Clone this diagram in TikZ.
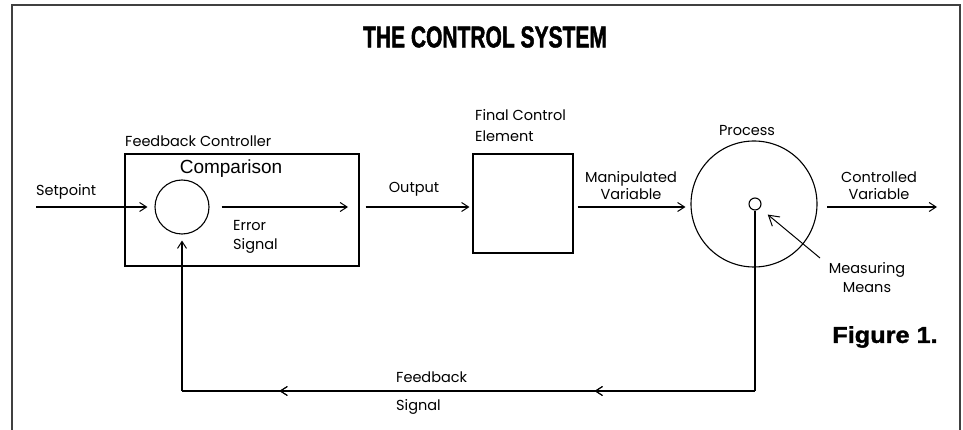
\documentclass[tikz,border=0pt]{standalone}
\usepackage{fontspec}
\usetikzlibrary{arrows.meta,positioning,decorations.markings,calc}
\newfontfamily\lblfont{Poppins}
\newfontfamily\cmpfont{Liberation Sans}
\newfontfamily\titlefont[FakeStretch=0.7,FakeBold=1.5]{Liberation Sans}
\newfontfamily\figfont[FakeStretch=1.1,FakeBold=1.5]{Liberation Sans}
\tikzset{
    frame style/.style={line width=1.8pt,black!75},
    object style/.style={line width=1.1pt},
    block/.style={draw,object style,rectangle,inner sep=0pt},
    ring/.style={draw,object style,circle,inner sep=0pt},
    arr/.style={-{Straight Barb[length=7pt,width=9pt,line width=1pt]},object style},
    open arr/.style={-{Straight Barb[length=10pt,width=12pt,line width=1pt]},line width=1pt},
    midarrow/.style={postaction=decorate,decoration={markings, mark=at position #1 with {\arrow{Straight Barb[length=7pt,width=9pt,line width=1pt]}}} },
    midarrow/.default=.5,
    lbl/.style={font=\lblfont\fontsize{14.5}{17}\selectfont,inner sep=0pt},
}
\tikzstyle{every node}=[font=\lblfont]

\begin{document}
\begin{tikzpicture}[x=1pt,y=-1pt]
        \useasboundingbox (0,0) rectangle (963,430);
        \draw[frame style] (12,431) -- (12,5) -- (960,5) -- (960,431);
        \node[font=\titlefont\bfseries\fontsize{30}{30}\selectfont] (title) at (485,37) {THE CONTROL SYSTEM};

        \node[block,minimum width=234,minimum height=112] (ctrl) at (242,210) {};
        \node[ring,minimum size=54] (cmp) at (182,207) {};
        \node[block,minimum width=100,minimum height=99] (fce) at (523,203.5) {};
        \node[ring,minimum size=126] (proc) at (754,204) {};
        \node[ring,minimum size=12] (sensor) at (755,204) {};

        \coordinate (setpoint) at (36,207);
        \coordinate (err end) at (348,207);
        \coordinate (ctrl out) at (827,207);
        \coordinate (ctrl end) at (937,207);
        \coordinate (fb right) at (755,391);
        \coordinate (fb left) at (182,391);
        \coordinate (meas tail) at (820,258);

        \node[lbl,anchor=west] (fc label) at (125,141) {Feedback Controller};
        \node[font=\cmpfont\fontsize{19}{19}\selectfont,inner sep=0pt] (cmp label) at (231,169) {Comparison};
        \node[lbl,anchor=west] (sp label) at (36,192) {Setpoint};
        \node[lbl,anchor=west,align=left,font=\lblfont\fontsize{14.5}{19}\selectfont] (err label) at (233,236.5) {Error\\Signal};
        \node[lbl] (out label) at (414,189) {Output};
        \node[lbl,anchor=west,align=left,font=\lblfont\fontsize{14.5}{21}\selectfont] (fce label) at (475,125.5) {Final Control\\Element};
        \node[lbl,align=center] (mv label) at (631,186) {Manipulated\\Variable};
        \node[lbl] (proc label) at (747,131) {Process};
        \node[lbl,align=center] (cv label) at (879,186) {Controlled\\Variable};
        \node[lbl,align=center,font=\lblfont\fontsize{14.5}{19}\selectfont] (meas label) at (867,277.5) {Measuring\\Means};
        \node[lbl,anchor=west,align=left,font=\lblfont\fontsize{14.5}{28.5}\selectfont] (fb label) at (396,393) {Feedback\\Signal};
        \node[font=\figfont\bfseries\fontsize{23}{23}\selectfont,inner sep=0pt] (fig label) at (885,337) {Figure 1.};

        \draw[arr,shorten >=7] (setpoint) -- (cmp);
        \draw[arr,shorten <=12] (cmp) -- (err end);
        \draw[arr,shorten <=6,shorten >=3] (ctrl.east |- cmp.east) -- (fce.west |- cmp.east);
        \draw[arr,shorten <=4,shorten >=5] (fce.east |- cmp.east) -- (proc.west |- cmp.east);
        \draw[arr] (ctrl out) -- (ctrl end);
        \draw[object style] (sensor) -- (fb right);
        \draw[object style,midarrow=.28,midarrow=.83] (fb right) -- (fb left);
        \draw[arr,shorten >=6] (fb left) -- (cmp);
        \draw[open arr,shorten >=10] (meas tail) -- (sensor);
\end{tikzpicture}
\end{document}
